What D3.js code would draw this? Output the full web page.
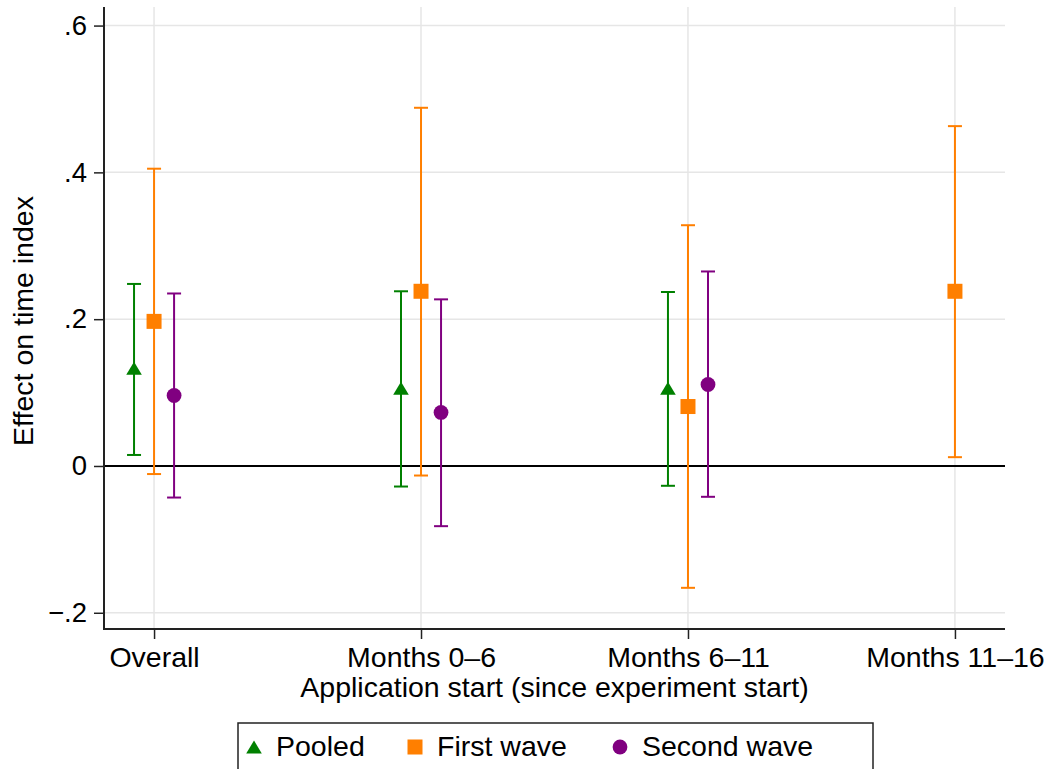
<!DOCTYPE html>
<html>
<head>
<meta charset="utf-8">
<script src="https://cdn.jsdelivr.net/npm/d3@7"></script>
<style>
  html, body { margin: 0; padding: 0; background: #fff; }
  svg { display: block; font-family: "Liberation Sans", Arial, Helvetica, sans-serif; }
</style>
</head>
<body>
<svg id="chart" width="1051" height="769"></svg>
<script>
// ---- data ----
const categories = ["Overall", "Months 0\u20136", "Months 6\u201311", "Months 11\u201316"];
const seriesNames = ["Pooled", "First wave", "Second wave"];
const seriesColors = ["#008000", "#ff7f00", "#800080"];
const pooledEst = [0.133, 0.106, 0.106, null];
const pooledLo  = [0.015, -0.028, -0.027, null];
const pooledHi  = [0.248, 0.238, 0.237, null];
const firstEst  = [0.197, 0.238, 0.081, 0.238];
const firstLo   = [-0.011, -0.013, -0.166, 0.012];
const firstHi   = [0.405, 0.488, 0.328, 0.463];
const secondEst = [0.096, 0.073, 0.111, null];
const secondLo  = [-0.043, -0.082, -0.042, null];
const secondHi  = [0.235, 0.227, 0.265, null];
const yTicks = [-0.2, 0, 0.2, 0.4, 0.6];
const yTickLabels = ["\u2212.2", "0", ".2", ".4", ".6"];
const xTitle = "Application start (since experiment start)";
const yTitle = "Effect on time index";

const series = [
  { name: seriesNames[0], color: seriesColors[0], shape: "triangle", est: pooledEst, lo: pooledLo, hi: pooledHi },
  { name: seriesNames[1], color: seriesColors[1], shape: "square",   est: firstEst,  lo: firstLo,  hi: firstHi },
  { name: seriesNames[2], color: seriesColors[2], shape: "circle",   est: secondEst, lo: secondLo, hi: secondHi }
];

// ---- layout ----
const L = 104, R = 1005, T = 7, B = 629;
const FS = 28.5;
const svg = d3.select("#chart");

const x = d3.scalePoint().domain(categories).range([L, R]).padding(0.1875);
const y = d3.scaleLinear().domain([-0.2221, 0.6253]).range([B, T]);
const offStep = x.step() * 0.075;

// grid
const g = svg.append("g");
g.selectAll("line.hgrid").data(yTicks.filter(d => d !== 0)).join("line")
  .attr("x1", L).attr("x2", R).attr("y1", d => y(d)).attr("y2", d => y(d))
  .attr("stroke", "#e6e6e6").attr("stroke-width", 1.5);
g.selectAll("line.vgrid").data(categories).join("line")
  .attr("x1", d => x(d)).attr("x2", d => x(d)).attr("y1", T).attr("y2", B)
  .attr("stroke", "#e6e6e6").attr("stroke-width", 1.5);

// zero line
g.append("line").attr("x1", L).attr("x2", R).attr("y1", y(0)).attr("y2", y(0))
  .attr("stroke", "#000").attr("stroke-width", 2);

// axes
const yAxis = d3.axisLeft(y).tickValues(yTicks).tickFormat((d, i) => yTickLabels[i]).tickSize(10).tickSizeOuter(0).tickPadding(7);
const ya = svg.append("g").attr("transform", `translate(${L},0)`).call(yAxis);
ya.select(".domain").attr("stroke", "#222").attr("stroke-width", 2).attr("d", `M0,${T}V${B}`);
ya.selectAll(".tick line").attr("stroke", "#222").attr("stroke-width", 1.5);
ya.selectAll(".tick text").attr("font-size", 27.5).attr("fill", "#000").attr("font-family", "Liberation Sans, Arial, sans-serif");

const xAxis = d3.axisBottom(x).tickSize(10).tickSizeOuter(0).tickPadding(8);
const xa = svg.append("g").attr("transform", `translate(0,${B})`).call(xAxis);
xa.select(".domain").attr("stroke", "#222").attr("stroke-width", 2).attr("d", `M${L - 1},0H${R}`);
xa.selectAll(".tick line").attr("stroke", "#222").attr("stroke-width", 1.5);
xa.selectAll(".tick text").attr("font-size", FS).attr("fill", "#000").attr("font-family", "Liberation Sans, Arial, sans-serif");

// titles
svg.append("text").attr("x", (L + R) / 2).attr("y", 697).attr("text-anchor", "middle")
  .attr("font-size", FS).text(xTitle);
svg.append("text").attr("transform", `translate(33,321) rotate(-90)`).attr("text-anchor", "middle")
  .attr("font-size", FS).text(yTitle);

// markers
function drawMarker(sel, shape, color) {
  if (shape === "triangle") {
    sel.append("path").attr("d", "M0,-6.5L7.8,6.5L-7.8,6.5Z").attr("fill", color);
  } else if (shape === "square") {
    sel.append("rect").attr("x", -7.5).attr("y", -7.5).attr("width", 15).attr("height", 15).attr("fill", color);
  } else {
    sel.append("circle").attr("r", 7.4).attr("fill", color);
  }
}

// error bars
series.forEach((s, si) => {
  const dx = (si - 1) * offStep;
  const pts = categories.map((c, i) => ({ c, est: s.est[i], lo: s.lo[i], hi: s.hi[i] })).filter(d => d.est !== null);
  const sg = svg.append("g");
  sg.selectAll("line.bar").data(pts).join("line")
    .attr("x1", d => x(d.c) + dx).attr("x2", d => x(d.c) + dx)
    .attr("y1", d => y(d.lo)).attr("y2", d => y(d.hi))
    .attr("stroke", s.color).attr("stroke-width", 2);
  ["lo", "hi"].forEach(k => {
    sg.selectAll("line.cap" + k).data(pts).join("line")
      .attr("x1", d => x(d.c) + dx - 7).attr("x2", d => x(d.c) + dx + 7)
      .attr("y1", d => y(d[k])).attr("y2", d => y(d[k]))
      .attr("stroke", s.color).attr("stroke-width", 2);
  });
  pts.forEach(d => {
    const m = sg.append("g").attr("transform", `translate(${x(d.c) + dx},${y(d.est)})`);
    drawMarker(m, s.shape, s.color);
  });
});

// legend
const lg = svg.append("g");
lg.append("rect").attr("x", 238).attr("y", 723).attr("width", 635).attr("height", 70)
  .attr("fill", "#fff").attr("stroke", "#222").attr("stroke-width", 1.5);
const legendX = [254, 415, 620];
series.forEach((s, i) => {
  const m = lg.append("g").attr("transform", `translate(${legendX[i]},747)`);
  drawMarker(m, s.shape, s.color);
  lg.append("text").attr("x", legendX[i] + 22).attr("y", 756).attr("font-size", FS).text(s.name);
});
</script>
</body>
</html>
